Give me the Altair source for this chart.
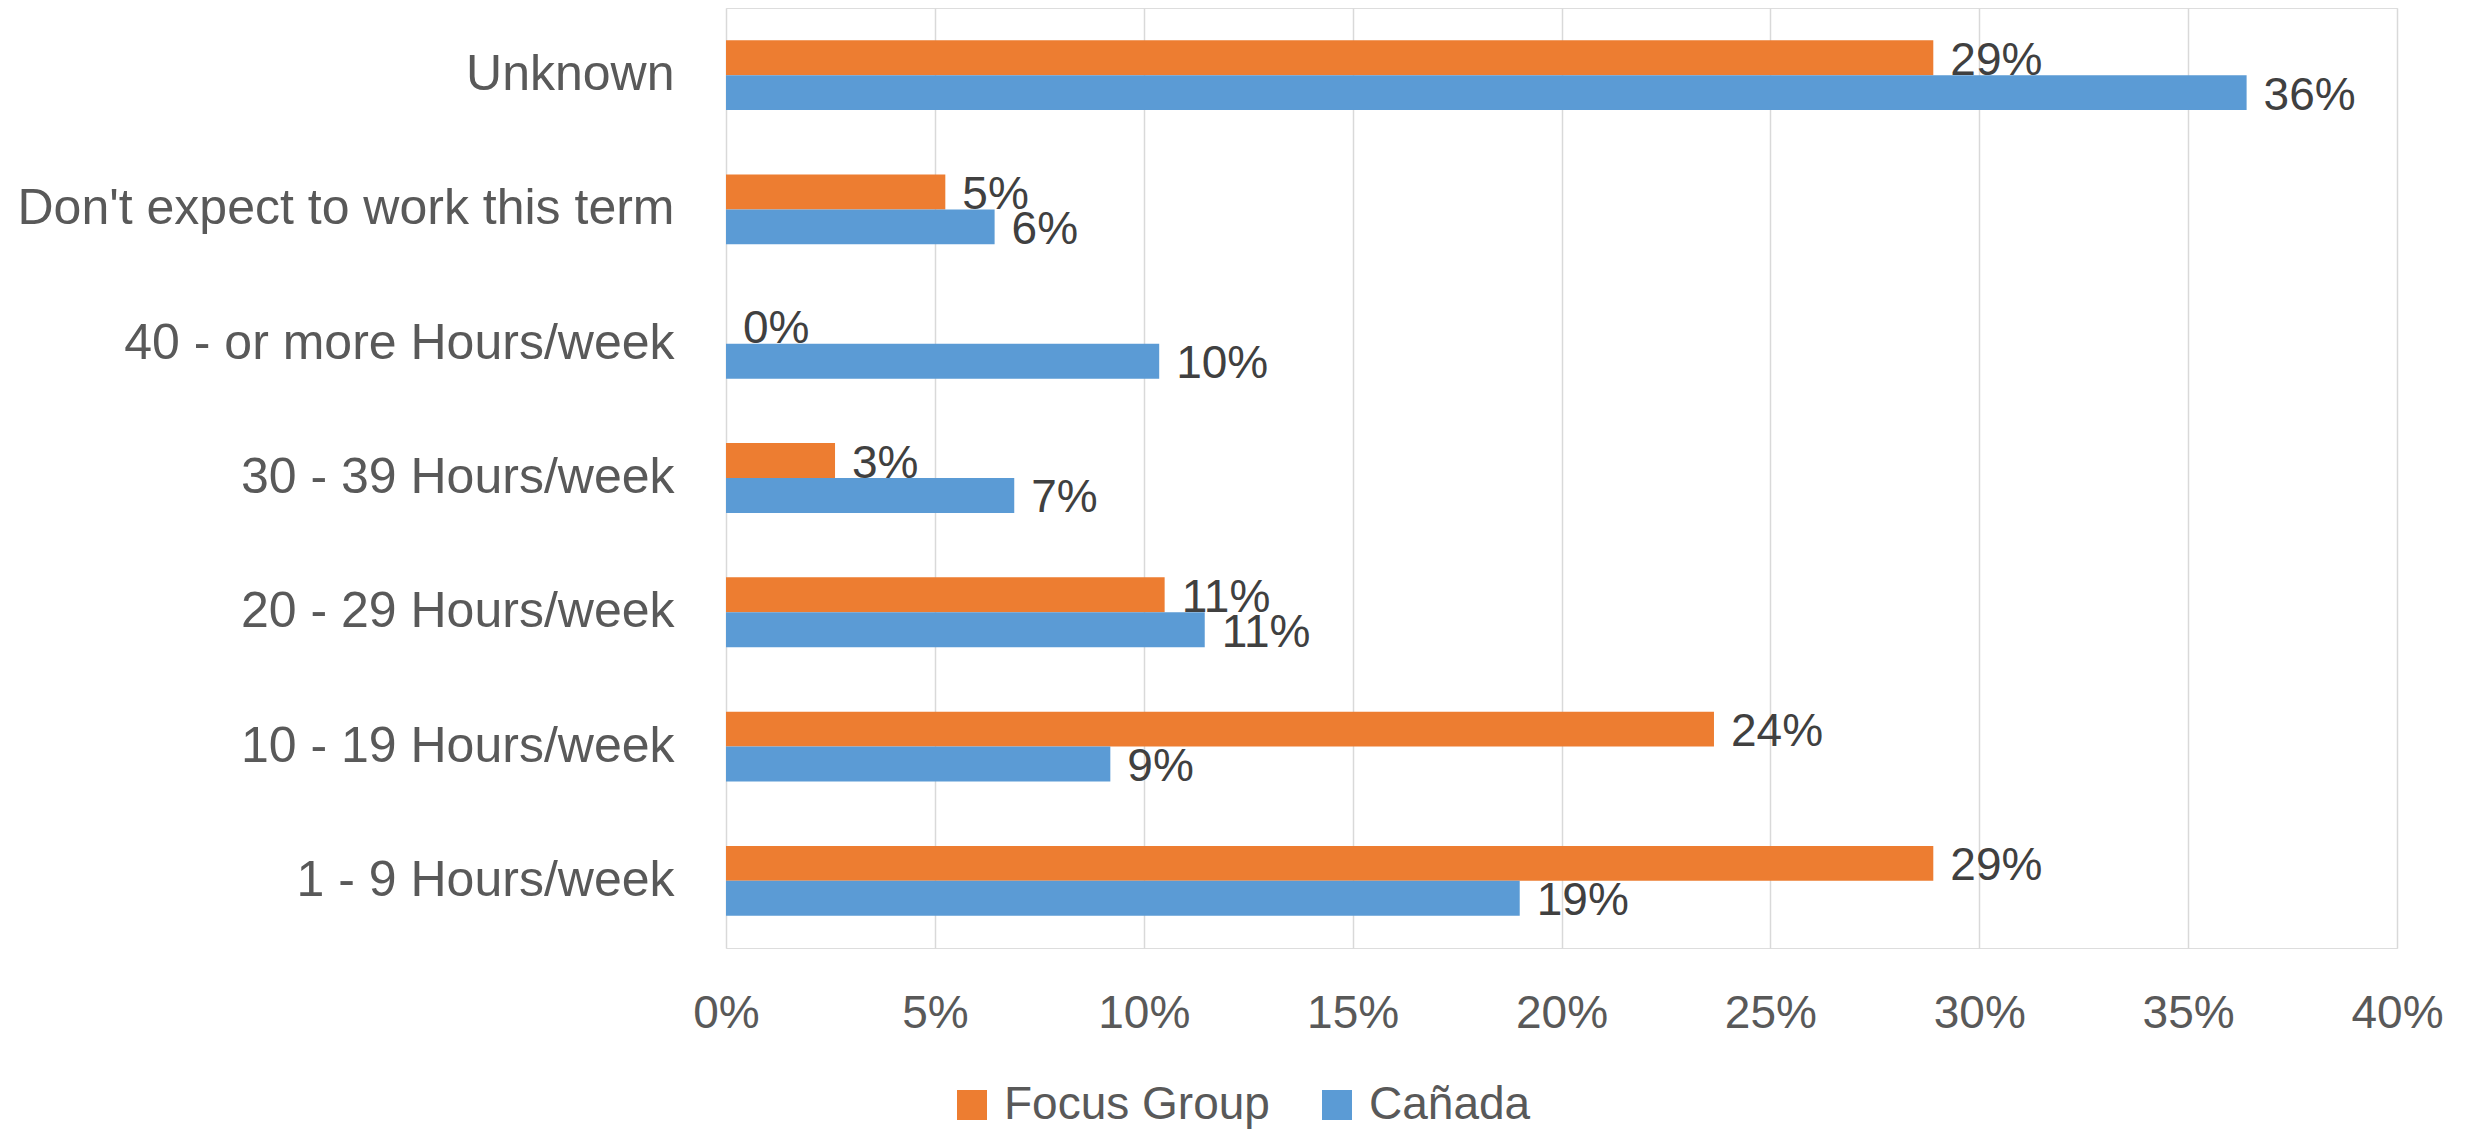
import altair as alt
import pandas as pd

categories = ["Unknown", "Don't expect to work this term", "40 - or more Hours/week",
              "30 - 39 Hours/week", "20 - 29 Hours/week", "10 - 19 Hours/week", "1 - 9 Hours/week"]
series = ["Focus Group", "Cañada"]
focus_group = [0.289, 0.0525, 0.0, 0.0261, 0.105, 0.2365, 0.289]
canada = [0.364, 0.0643, 0.1037, 0.069, 0.1146, 0.092, 0.190]
colors = ["#ED7D31", "#5B9BD5"]
x_ticks = [0, 0.05, 0.10, 0.15, 0.20, 0.25, 0.30, 0.35, 0.40]

rows = []
for c, f, v in zip(categories, focus_group, canada):
    rows.append({"category": c, "series": series[0], "value": f})
    rows.append({"category": c, "series": series[1], "value": v})
df = pd.DataFrame(rows)

FONT = "Liberation Sans"

y_enc = alt.Y("category:N", sort=categories, title=None,
              scale=alt.Scale(paddingInner=0.48, paddingOuter=0.24),
              axis=alt.Axis(labelFontSize=50, labelColor="#595959", labelFont=FONT,
                            labelPadding=52, ticks=False, domain=False, labelLimit=1000))
yoff = alt.YOffset("series:N", sort=series, scale=alt.Scale(domain=series))

bars = alt.Chart(df).mark_bar().encode(
    x=alt.X("value:Q", title=None,
            scale=alt.Scale(domain=[0, 0.40], nice=False),
            axis=alt.Axis(values=x_ticks, format=".0%", labelFontSize=46, labelFont=FONT,
                          labelColor="#595959", labelPadding=43, ticks=False, domain=False,
                          grid=True, gridColor="#d9d9d9", gridWidth=1.5, labelFlush=False)),
    y=y_enc,
    yOffset=yoff,
    color=alt.Color("series:N", sort=series,
                    scale=alt.Scale(domain=series, range=colors),
                    legend=alt.Legend(title=None, orient="none", direction="horizontal",
                                      legendX=223, legendY=1074, symbolType="square",
                                      symbolSize=900, symbolStrokeWidth=0,
                                      labelFontSize=46, labelFont=FONT, labelColor="#595959",
                                      labelOffset=9, columnPadding=44, padding=0,
                                      labelLimit=1000)),
)

labels = alt.Chart(df).mark_text(align="left", baseline="middle", dx=17, dy=3,
                                 fontSize=46, font=FONT, color="#404040").encode(
    x=alt.X("value:Q"),
    y=alt.Y("category:N", sort=categories),
    yOffset=yoff,
    text=alt.Text("value:Q", format=".0%"),
)

chart = alt.layer(bars, labels).properties(
    width=1671, height=940,
    autosize=alt.AutoSizeParams(type="none"),
    padding={"left": 718, "top": 0, "right": 55, "bottom": 181},
).configure_view(stroke=None).configure(background="white")

chart.save("out.html", embed_options={"renderer": "svg", "actions": False})
